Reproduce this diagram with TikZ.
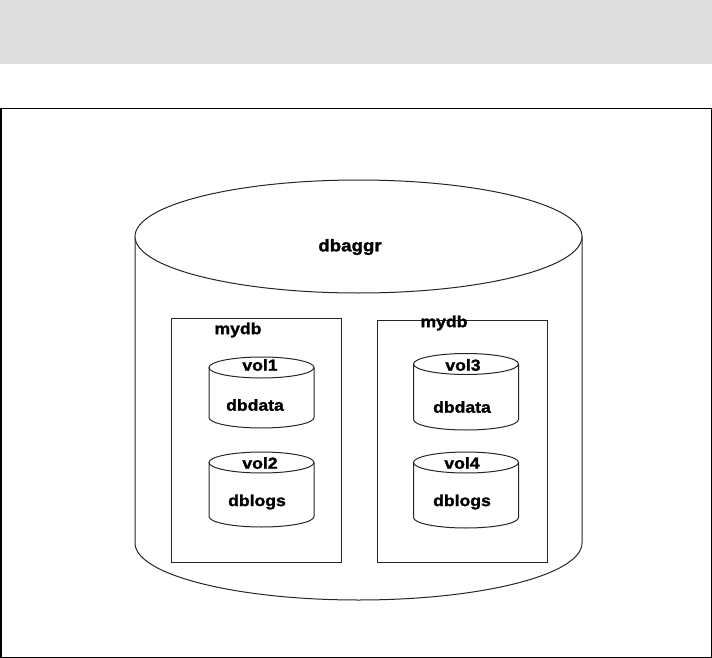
\documentclass[tikz,border=0pt]{standalone}
\usepackage{fontspec}
\setmainfont{Liberation Sans}
\newfontfamily\lblfont[FakeStretch=1.1,FakeBold=1.5]{Liberation Sans Bold}
\begin{document}
\begin{tikzpicture}[x=1pt,y=-1pt,
  shapeline/.style={draw=black!85,line width=1pt},
  lbl/.style={font=\lblfont\fontsize{16}{18}\selectfont,inner sep=0pt}]
\useasboundingbox (0,0) rectangle (712,658);
% gray band
\fill[black!13] (0,0) rectangle (712,64);
% frame
\draw[line width=1.5pt] (0.75,108.5) rectangle (711.25,657.25);
% outer cylinder
\draw[shapeline,fill=white] (135,236.5) -- (135,543) arc[start angle=180,end angle=0,x radius=223.5,y radius=57] -- (582,236.5);
\draw[shapeline,fill=white] (358.5,236.5) ellipse[x radius=223.5,y radius=56.5];
\node[lbl,font=\lblfont\fontsize{17}{19}\selectfont] (dbaggr) at (350,247) {dbaggr};
% containers
\draw[shapeline] (171,318.5) rectangle (341,562);
\draw[shapeline] (377,320) rectangle (547,562);
\node[lbl] (mydbL) at (238,330) {mydb};
\node[lbl] (mydbR) at (444,323) {mydb};
% small cylinders
\newcommand{\smallcyl}[3]{% cx, top center y, bottom center y
  \draw[shapeline] (#1-52.5,#2) -- (#1-52.5,#3) arc[start angle=180,end angle=0,x radius=52.5,y radius=10.5] -- (#1+52.5,#2);
  \draw[shapeline] (#1,#2) ellipse[x radius=52.5,y radius=10.5];
}
\smallcyl{261.5}{367.5}{417.5}
\smallcyl{261.5}{462.5}{516.5}
\smallcyl{466}{364}{419.5}
\smallcyl{466}{462.5}{517.5}
\node[lbl] (vol1) at (260,365) {vol1};
\node[lbl] (data1) at (255,405) {dbdata};
\node[lbl] (vol2) at (260,463) {vol2};
\node[lbl] (logs1) at (257,502) {dblogs};
\node[lbl] (vol3) at (463,365) {vol3};
\node[lbl] (data2) at (462,407) {dbdata};
\node[lbl] (vol4) at (462,463) {vol4};
\node[lbl] (logs2) at (462,502) {dblogs};
\end{tikzpicture}
\end{document}
